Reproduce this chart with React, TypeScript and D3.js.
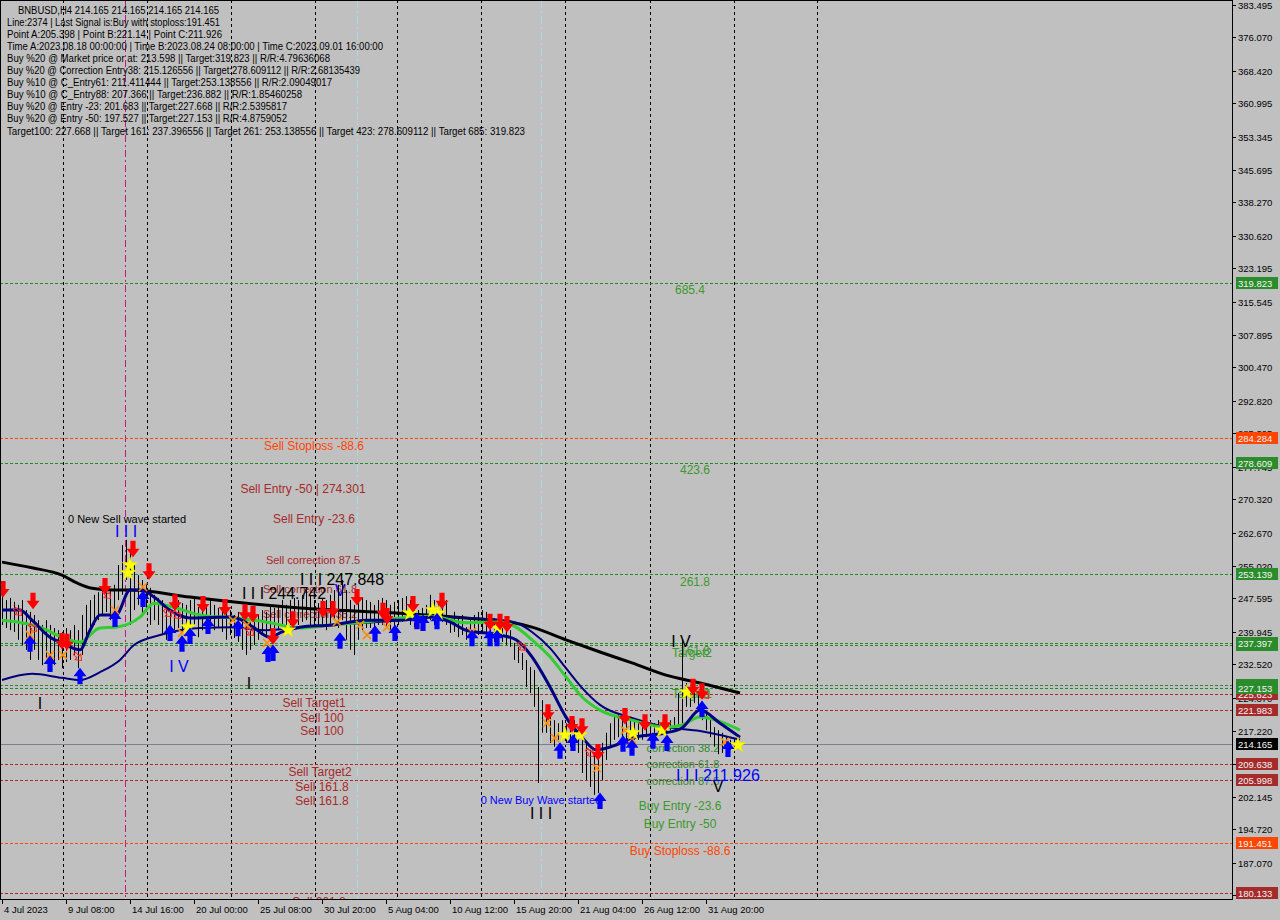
import React from 'react';
import * as d3 from 'd3';

// ---------- DATA ----------
// H4 bars, sampled every 2 bars starting 4 Jul 2023 00:00 (bar index = 2*k)
const highs = [
  248.4, 247.2, 247.7, 246.8, 246.1, 247.2, 244.9, 244.5, 243.8, 242.6,
  241.5, 242.6, 241.5, 240.8, 240.3, 239.9, 240.8, 240.3, 241.5, 240.3,
  243.8, 246.1, 247.2, 248.4, 249.0, 249.5, 250.0, 249.5, 250.7, 255.2,
  259.8, 261.0, 258.7, 255.2, 252.9, 251.8, 251.1, 250.0, 248.4, 247.7,
  247.2, 246.1, 244.5, 246.1, 247.2, 246.5, 246.1, 247.2, 247.7, 245.6,
  245.4, 246.1, 247.2, 246.1, 245.4, 244.9, 244.5, 244.9, 243.8, 244.5,
  243.8, 242.6, 243.1, 242.6, 243.8, 244.9, 244.5, 246.1, 245.4, 246.1,
  247.2, 246.1, 247.2, 247.7, 247.2, 248.4, 249.5, 248.4, 247.2, 246.5,
  247.7, 247.2, 248.4, 249.5, 250.7, 251.8, 249.5, 247.2, 246.1, 247.2,
  247.7, 247.2, 246.8, 246.1, 247.2, 247.7, 247.2, 246.1, 246.8, 247.2,
  247.7, 248.1, 247.2, 246.8, 244.9, 245.4, 246.1, 248.4, 247.2, 246.5,
  247.7, 247.2, 242.6, 244.5, 243.3, 243.8, 241.0, 242.6, 243.8, 244.5,
  244.9, 244.5, 243.8, 243.1, 241.0, 242.6, 242.2, 240.3, 237.4, 236.5,
  235.1, 233.5, 231.9, 231.2, 227.3, 224.3, 222.7, 220.4, 219.7, 219.0,
  219.7, 219.0, 218.1, 219.7, 218.1, 215.2, 214.5, 212.9, 212.2, 212.9,
  214.5, 216.8, 219.0, 220.4, 221.1, 220.4, 219.7, 220.4, 219.7, 219.0,
  219.7, 219.0, 219.7, 219.0, 219.7, 219.3, 219.0, 219.7, 220.4, 225.9,
  238.1, 228.2, 227.3, 227.3, 225.9, 223.6, 221.3, 219.7, 218.1, 217.4,
  216.8, 215.8, 215.2, 215.2, 214.7,
];
const lows = [
  241.5, 240.8, 240.3, 239.9, 238.1, 236.9, 235.8, 233.5, 235.8, 233.5,
  232.3, 233.9, 231.6, 232.3, 233.5, 231.6, 233.0, 233.5, 234.6, 231.6,
  234.6, 238.1, 240.3, 241.5, 242.6, 243.8, 244.5, 242.6, 243.8, 247.2,
  248.4, 251.8, 241.5, 244.9, 246.1, 243.8, 244.5, 241.5, 242.6, 241.5,
  239.2, 238.1, 239.9, 240.3, 240.8, 239.9, 240.3, 240.8, 241.5, 238.7,
  240.3, 240.8, 241.5, 240.3, 240.8, 239.9, 238.1, 239.2, 238.5, 237.6,
  235.8, 234.6, 235.8, 236.9, 238.1, 239.2, 238.5, 240.3, 240.8, 240.3,
  241.5, 240.8, 241.5, 242.2, 241.5, 242.2, 242.6, 241.5, 240.8, 240.8,
  241.5, 240.3, 241.5, 242.6, 240.8, 242.6, 238.1, 235.8, 234.6, 238.1,
  240.3, 240.8, 240.8, 240.3, 241.5, 241.5, 240.8, 240.3, 240.8, 241.5,
  242.2, 242.6, 241.5, 241.0, 241.0, 241.5, 242.2, 242.6, 241.5, 240.8,
  242.2, 241.5, 239.7, 239.9, 238.7, 239.2, 238.1, 238.1, 238.5, 239.2,
  239.9, 238.5, 238.1, 237.6, 238.1, 237.6, 236.9, 236.5, 233.5, 232.8,
  231.2, 227.3, 225.9, 222.7, 205.3, 216.8, 216.8, 214.5, 213.6, 215.2,
  215.2, 214.5, 213.6, 214.5, 212.2, 207.6, 206.0, 204.4, 202.6, 203.0,
  206.0, 210.6, 213.6, 215.2, 215.8, 215.8, 215.2, 216.8, 215.2, 215.2,
  215.2, 215.8, 215.8, 216.8, 216.8, 216.3, 216.8, 217.4, 217.9, 218.1,
  219.0, 222.7, 222.7, 223.6, 222.0, 219.7, 217.4, 215.8, 213.6, 211.9,
  212.2, 212.4, 212.9, 213.6, 213.6,
];

// moving averages: [bar index, price]
const maSlowBlack: [number, number][] = [
  [0, 255.9], [15, 254.6], [30, 252.9], [38, 251.0], [45, 249.9], [55, 249.5], [64, 249.5], [94, 247.9],
  [115, 246.8], [149, 245.4], [199, 244.2], [232, 243.1], [254, 242.2], [265, 241.0],
  [282, 238.1], [299, 235.3], [315, 232.8], [332, 230.0], [349, 228.2], [369, 225.9],
];
const maGreen: [number, number][] = [
  [0, 242.6], [19, 241.0], [30, 238.7], [39, 237.6], [49, 240.8], [57, 241.0], [69, 243.3],
  [76, 246.5], [84, 245.8], [99, 243.8], [115, 243.1], [132, 242.2], [149, 240.8], [165, 241.5],
  [182, 242.2], [199, 243.1], [215, 243.5], [232, 242.0], [249, 242.2], [257, 241.0],
  [265, 238.1], [274, 234.2], [282, 229.6], [290, 225.0], [299, 222.0], [315, 219.7],
  [332, 218.1], [340, 218.6], [349, 220.4], [357, 219.7], [369, 217.4],
];
const maFastNavy: [number, number][] = [
  [0, 244.9], [9, 244.9], [15, 242.6], [24, 238.7], [30, 237.4], [39, 235.8], [44, 240.3],
  [49, 243.8], [57, 243.8], [64, 249.5], [70, 249.5], [76, 247.9], [84, 244.9], [94, 243.1],
  [115, 243.3], [124, 241.5], [134, 238.7], [140, 239.9], [149, 241.0], [165, 241.5],
  [182, 242.6], [199, 242.6], [215, 243.3], [224, 242.2], [232, 240.3], [249, 239.2],
  [257, 238.1], [265, 234.2], [274, 227.3], [282, 220.4], [290, 215.8], [297, 212.9],
  [307, 214.0], [315, 215.6], [332, 216.8], [340, 217.9], [349, 222.0], [359, 219.0], [369, 215.8],
];
const maMidNavy: [number, number][] = [
  [0, 228.9], [15, 230.3], [30, 229.4], [39, 228.9], [49, 230.7], [59, 233.5], [66, 236.9],
  [79, 239.2], [99, 240.8], [115, 241.0], [132, 240.3], [149, 241.0], [165, 241.5],
  [199, 242.6], [215, 243.3], [232, 243.1], [249, 242.6], [257, 242.0], [265, 239.9],
  [274, 236.2], [282, 231.6], [290, 227.1], [299, 223.2], [315, 220.2], [332, 218.1],
  [349, 217.2], [359, 216.3], [369, 215.2],
];

// signal markers: [bar index, price]
const sellArrows: [number, number][] = [
  [0.5, 249.5], [15.5, 246.8], [30, 237.6], [32.5, 237.4], [51.5, 250.2], [65.5, 258.7],
  [73.5, 253.6], [86.5, 246.5], [100.5, 246.1], [111.5, 245.4], [121.5, 244.2], [125.5, 243.8],
  [135.5, 238.7], [145.5, 242.6], [160.5, 244.9], [165.5, 244.9], [177.5, 247.7], [190.5, 244.5],
  [192.5, 243.3], [205.5, 246.1], [220, 246.8], [244, 242.0], [249, 242.0], [252.5, 241.5],
  [273, 221.3], [285, 218.6], [290, 218.1], [298, 212.2], [311.5, 220.4], [321.5, 219.0],
  [331.5, 219.0], [345.5, 227.1], [350, 226.1],
];
const buyArrows: [number, number][] = [
  [14, 237.4], [24, 232.8], [39, 230.0], [56.5, 243.1], [70.5, 247.7], [84, 239.9], [90, 237.4],
  [94, 239.2], [103, 241.5], [118, 241.0], [133, 235.1], [135.5, 235.3], [169, 238.1],
  [186.5, 239.7], [196.5, 239.9], [207.5, 242.6], [210.5, 242.2], [217.5, 242.6], [235, 238.7],
  [244, 238.7], [247.5, 238.7], [279, 212.9], [285.5, 214.7], [299, 201.4], [310.5, 214.5],
  [315, 213.6], [325.5, 215.2], [332.5, 214.7], [350, 222.5], [363, 213.3],
];
const stars: [number, number][] = [
  [63, 253.4], [64, 255.2], [93, 241.0], [143, 240.3], [204, 244.2], [215.5, 244.9], [218, 244.2],
  [248, 240.8], [281.5, 216.3], [289, 216.3], [315.5, 216.8], [330, 217.4], [342.5, 226.1], [368, 214.0],
];
const crosses: [number, number][] = [
  [14, 239.2], [24, 234.6], [30.5, 234.6], [56.5, 244.9], [70.5, 250.2], [90, 239.7], [115.5, 242.6],
  [122.5, 241.5], [132.5, 237.4], [167.5, 242.2], [179, 241.5], [182.5, 239.2], [192.5, 241.0],
  [208, 241.5], [235, 239.9], [272.5, 219.0], [276.5, 215.6], [297.5, 208.7], [311.5, 217.4],
  [315, 215.2], [361.5, 214.7],
];
const hollowArrows: [number, number][] = [
  [8, 244.5], [15.5, 240.8], [38, 234.2], [52.5, 248.4], [83, 244.2], [87.5, 243.8], [124, 239.9],
  [260, 236.5], [294, 212.2], [351.5, 225.5],
];

// levels
const greenLevels = [319.823, 278.609, 253.139, 236.882, 237.397, 227.668, 227.153];
const redLevels = [225.623, 221.983, 209.638, 205.998, 180.133];
const orangeLevels = [284.284, 191.451];
const lastPrice = 214.165;

// axis badges in drawing order
const badges: [number, string][] = [
  [319.823, 'g'], [284.284, 'o'], [278.609, 'g'], [253.139, 'g'], [236.882, 'g'], [237.397, 'g'],
  [225.623, 'r'], [227.668, 'g'], [227.153, 'g'], [221.983, 'r'], [214.165, 'k'], [209.638, 'r'],
  [205.998, 'r'], [191.451, 'o'], [180.133, 'r'],
];

const priceTicks = [
  '383.495', '376.070', '368.420', '360.995', '353.345', '345.695', '338.270', '330.620',
  '323.195', '315.545', '307.895', '300.470', '292.820', '285.395', '277.745', '270.320',
  '262.670', '255.020', '247.595', '239.945', '232.520', '224.870', '217.220', '209.570',
  '202.145', '194.720', '187.070', '179.645',
];
const timeLabels = [
  '4 Jul 2023', '9 Jul 08:00', '14 Jul 16:00', '20 Jul 00:00', '25 Jul 08:00', '30 Jul 20:00',
  '5 Aug 04:00', '10 Aug 12:00', '15 Aug 20:00', '21 Aug 04:00', '26 Aug 12:00', '31 Aug 20:00',
];
const weekSeparators = [30.5, 72.5, 114.5, 156.5, 197.5, 239.5, 281.5, 324, 366, 407.5];
const magentaLines = [61.5];
const cyanLines = [177.5, 269.5];

const infoLines = [
  'BNBUSD,H4  214.165 214.165 214.165 214.165',
  'Line:2374 | Last Signal is:Buy with stoploss:191.451',
  'Point A:205.398 | Point B:221.14 | Point C:211.926',
  'Time A:2023.08.18 00:00:00 | Time B:2023.08.24 08:00:00 | Time C:2023.09.01 16:00:00',
  'Buy %20 @ Market price or at: 213.598 || Target:319.823 || R/R:4.79636068',
  'Buy %20 @ Correction Entry38: 215.126556 || Target:278.609112 || R/R:2.68135439',
  'Buy %10 @ C_Entry61: 211.411444 || Target:253.138556 || R/R:2.09049017',
  'Buy %10 @ C_Entry88: 207.366 || Target:236.882 || R/R:1.85460258',
  'Buy %20 @ Entry -23: 201.683 || Target:227.668 || R/R:2.5395817',
  'Buy %20 @ Entry -50: 197.527 || Target:227.153 || R/R:4.8759052',
  'Target100: 227.668 || Target 161: 237.396556 || Target 261: 253.138556 || Target 423: 278.609112 || Target 685: 319.823',
];
const infoWidths = [201, 213, 215, 376, 323, 353, 325, 295, 280, 280, 518];

// chart annotations: [text, bar index, price]
const sellLabels: [string, number, number][] = [
  ['Sell Entry -50 | 274.301', 150.5, 272.6], ['Sell Entry -23.6', 156, 265.8],
  ['Sell Target1', 156, 223.6], ['Sell 100', 160, 220.2], ['Sell 100', 160, 217.2],
  ['Sell Target2', 159, 207.8], ['Sell 161.8', 160, 204.4], ['Sell 161.8', 160, 201.2],
  ['Sell 261.8', 158.5, 178.0],
];
const sellCorrections: [string, number, number][] = [
  ['Sell correction 87.5', 155.5, 256.4], ['Sell correction 61.8', 154, 249.7],
  ['Sell correction 38.2', 154, 244.0],
];
const stopLabels: [string, number, number][] = [
  ['Sell Stoploss -88.6', 156, 282.5], ['Buy Stoploss -88.6', 339, 189.7],
];
const buyLabels: [string, number, number][] = [
  ['685.4', 344, 318.2], ['423.6', 346.5, 277.0], ['261.8', 346.5, 251.3], ['161.8', 346.5, 235.5],
  ['Target2', 345, 235.1], ['100', 349, 225.7], ['Target1', 345, 225.7],
  ['Buy Entry -23.6', 339, 200.0], ['Buy Entry -50', 339, 195.9],
];
const buyCorrections: [string, number, number][] = [
  ['correction 38.2', 340.5, 213.3], ['correction 61.8', 340.5, 209.6], ['correction 87.5', 340.5, 205.7],
];
const waveBig: [string, number, number, string][] = [
  ['I I I 244.742', 141, 248.6, '#000000'], ['I I I 247.848', 170, 251.8, '#000000'],
  ['I I I 211.926', 358, 207.1, '#0000ff'],
];
const waveSmall: [string, number, number, string][] = [
  ['I I I', 62, 262.8, '#0000ff'], ['I V', 88.5, 232.1, '#0000ff'], ['I', 19, 223.6, '#000000'],
  ['I', 123.5, 228.2, '#000000'], ['V', 169, 249.3, '#0000ff'], ['I V', 339.5, 237.6, '#000000'],
  ['V', 358, 204.6, '#000000'], ['I I I', 269.5, 198.4, '#000000'],
];
const waveNotes: [string, number, number, string][] = [
  ['0 New Sell wave started', 62.5, 265.8, '#000000'], ['0 New Buy Wave started', 269.5, 201.4, '#0000ff'],
];

// ---------- COMPONENT ----------
const BG = '#c0c0c0';
const UI_FONT = "Tahoma, 'Liberation Sans', Arial, sans-serif";
const TXT_FONT = "Arial, 'Liberation Sans', sans-serif";
const PLOT_R = 1232;
const PLOT_B = 899;

const badgeColor: Record<string, string> = { g: '#2a8c2a', o: '#ff4500', r: '#a52a2a', k: '#000000' };

const downArrowPath = 'M-2.6,-9 L2.6,-9 L2.6,-1 L6.5,-1 L0,7.5 L-6.5,-1 L-2.6,-1 Z';
const upArrowPath = 'M-2.6,9 L2.6,9 L2.6,1 L6.5,1 L0,-7.5 L-6.5,1 L-2.6,1 Z';
const hollowPath = 'M-1.5,5 L1.5,5 L1.5,0 L4,0 L0,-5 L-4,0 L-1.5,0 Z';

export default function App() {
  const x = d3.scaleLinear().domain([0, 368]).range([2, 738]);
  const y = d3.scaleLinear().domain([180.133, 383.495]).range([892.9, 5]);

  const line = d3
    .line<[number, number]>()
    .x((d) => x(d[0]))
    .y((d) => y(d[1]))
    .curve(d3.curveMonotoneX);

  const starPath = d3.symbol().type(d3.symbolStar).size(75)() as string;
  const crossPath = d3.symbol().type(d3.symbolTimes).size(45)() as string;

  const fmt = d3.format('.3f');

  const textAt = (
    items: [string, number, number, ...any[]][],
    fill: string | null,
    size: number,
    key: string
  ) =>
    items.map((d, i) => (
      <text
        key={key + i}
        x={x(d[1])}
        y={y(d[2])}
        fill={fill ?? d[3]}
        fontSize={size}
        fontFamily={TXT_FONT}
        textAnchor="middle"
        dominantBaseline="central"
      >
        {d[0]}
      </text>
    ));

  return (
    <svg
      width={1280}
      height={920}
      style={{ position: 'absolute', left: 0, top: 0, display: 'block' }}
      xmlns="http://www.w3.org/2000/svg"
    >
      <defs>
        <clipPath id="plot">
          <rect x={1} y={1} width={PLOT_R - 1} height={PLOT_B - 1} />
        </clipPath>
      </defs>
      <rect x={0} y={0} width={1280} height={920} fill={BG} />

      <g clipPath="url(#plot)">
        {/* vertical separators */}
        {weekSeparators.map((b, i) => (
          <line key={'ws' + i} x1={Math.round(x(b)) + 0.5} x2={Math.round(x(b)) + 0.5} y1={0} y2={PLOT_B}
            stroke="#000" strokeWidth={1} strokeDasharray="3,3" />
        ))}
        {magentaLines.map((b, i) => (
          <line key={'mg' + i} x1={Math.round(x(b)) + 0.5} x2={Math.round(x(b)) + 0.5} y1={0} y2={PLOT_B}
            stroke="#c8147f" strokeWidth={1} strokeDasharray="7,3,2,3" />
        ))}
        {cyanLines.map((b, i) => (
          <line key={'cy' + i} x1={Math.round(x(b)) + 0.5} x2={Math.round(x(b)) + 0.5} y1={0} y2={PLOT_B}
            stroke="#a6dce4" strokeWidth={1} strokeDasharray="8,3,2,3" />
        ))}

        {/* horizontal levels */}
        {greenLevels.map((p, i) => (
          <line key={'gl' + i} x1={0} x2={PLOT_R} y1={Math.round(y(p)) + 0.5} y2={Math.round(y(p)) + 0.5}
            stroke="#228b22" strokeWidth={1} strokeDasharray="3,2" />
        ))}
        {redLevels.map((p, i) => (
          <line key={'rl' + i} x1={0} x2={PLOT_R} y1={Math.round(y(p)) + 0.5} y2={Math.round(y(p)) + 0.5}
            stroke="#a52a2a" strokeWidth={1} strokeDasharray="3,2" />
        ))}
        {orangeLevels.map((p, i) => (
          <line key={'ol' + i} x1={0} x2={PLOT_R} y1={Math.round(y(p)) + 0.5} y2={Math.round(y(p)) + 0.5}
            stroke="#ff4500" strokeWidth={1} strokeDasharray="3,2" />
        ))}
        <line x1={0} x2={PLOT_R} y1={Math.round(y(lastPrice)) + 0.5} y2={Math.round(y(lastPrice)) + 0.5}
          stroke="#7a8290" strokeWidth={1} />

        {/* annotations */}
        {textAt(sellLabels, '#a52a2a', 12, 'sl')}
        {textAt(sellCorrections, '#a52a2a', 11, 'sc')}
        {textAt(stopLabels, '#ff4500', 12, 'st')}
        {textAt(buyLabels, '#3a9a2a', 12, 'bl')}
        {textAt(buyCorrections, '#2e8b2e', 11, 'bc')}
        {textAt(waveNotes, null, 11, 'wn')}
        {textAt(waveSmall, null, 16, 'wsm')}
        {waveBig.map((d, i) => (
          <text key={'wb' + i} x={x(d[1])} y={y(d[2])} fill={d[3]} fontSize={17} fontFamily={TXT_FONT}
            textAnchor="middle" dominantBaseline="central" textLength={84} lengthAdjust="spacingAndGlyphs">
            {d[0]}
          </text>
        ))}

        {/* bars */}
        <g stroke="#000" strokeWidth={1}>
          {highs.map((h, k) => {
            const xx = Math.round(x(2 * k)) + 0.5;
            return <line key={'b' + k} x1={xx} x2={xx} y1={y(h)} y2={y(lows[k])} />;
          })}
        </g>

        {/* moving averages */}
        <path d={line(maSlowBlack) as string} fill="none" stroke="#000" strokeWidth={3} />
        <path d={line(maMidNavy) as string} fill="none" stroke="#00007a" strokeWidth={2} />
        <path d={line(maGreen) as string} fill="none" stroke="#32cd32" strokeWidth={3} />
        <path d={line(maFastNavy) as string} fill="none" stroke="#000080" strokeWidth={3} />

        {/* markers */}
        {hollowArrows.map((d, i) => (
          <path key={'ha' + i} d={hollowPath} transform={`translate(${x(d[0])},${y(d[1])}) rotate(135)`}
            fill="none" stroke="#ff2020" strokeWidth={1} />
        ))}
        {crosses.map((d, i) => (
          <path key={'cr' + i} d={crossPath} transform={`translate(${x(d[0])},${y(d[1])})`}
            fill="#ff8c00" stroke="#ff8c00" strokeWidth={1.6} />
        ))}
        {stars.map((d, i) => (
          <path key={'sr' + i} d={starPath} transform={`translate(${x(d[0])},${y(d[1])})`}
            fill="#ffff00" stroke="#e0e000" strokeWidth={0.5} />
        ))}
        {sellArrows.map((d, i) => (
          <path key={'sa' + i} d={downArrowPath} transform={`translate(${x(d[0])},${y(d[1])})`} fill="#ff0000" />
        ))}
        {buyArrows.map((d, i) => (
          <path key={'ba' + i} d={upArrowPath} transform={`translate(${x(d[0])},${y(d[1])})`} fill="#0000ff" />
        ))}

        {/* info block */}
        {infoLines.map((t, i) => (
          <text key={'in' + i} x={i === 0 ? 18 : 7} y={10 + i * 12.1} fontSize={10} fontFamily={UI_FONT}
            fill="#000" dominantBaseline="central" textLength={infoWidths[i]} lengthAdjust="spacingAndGlyphs">
            {t}
          </text>
        ))}
      </g>

      {/* frame */}
      <rect x={0.5} y={0.5} width={PLOT_R} height={PLOT_B} fill="none" stroke="#000" strokeWidth={1} />

      {/* price axis */}
      {priceTicks.map((t, i) => {
        const yy = Math.round(y(+t)) + 0.5;
        return (
          <g key={'pt' + i}>
            <line x1={PLOT_R} x2={PLOT_R + 4} y1={yy} y2={yy} stroke="#000" />
            <text x={PLOT_R + 6} y={yy} fontSize={9.5} fontFamily={UI_FONT} fill="#000" dominantBaseline="central">
              {t}
            </text>
          </g>
        );
      })}
      {badges.map(([p, c], i) => {
        const yy = Math.round(y(p));
        return (
          <g key={'bd' + i}>
            <rect x={PLOT_R + 4} y={yy - 6} width={42} height={12} fill={badgeColor[c]} />
            <text x={PLOT_R + 6} y={yy + 0.5} fontSize={9.5} fontFamily={UI_FONT} fill="#f4f4f4"
              dominantBaseline="central">
              {fmt(p)}
            </text>
          </g>
        );
      })}

      {/* time axis */}
      {timeLabels.map((t, i) => {
        const xx = Math.round(x(32 * i)) + 0.5;
        return (
          <g key={'tl' + i}>
            <line x1={xx} x2={xx} y1={PLOT_B} y2={PLOT_B + 5} stroke="#000" />
            <text x={xx + 1.5} y={PLOT_B + 10} fontSize={9.5} fontFamily={UI_FONT} fill="#000"
              dominantBaseline="central">
              {t}
            </text>
          </g>
        );
      })}
    </svg>
  );
}
